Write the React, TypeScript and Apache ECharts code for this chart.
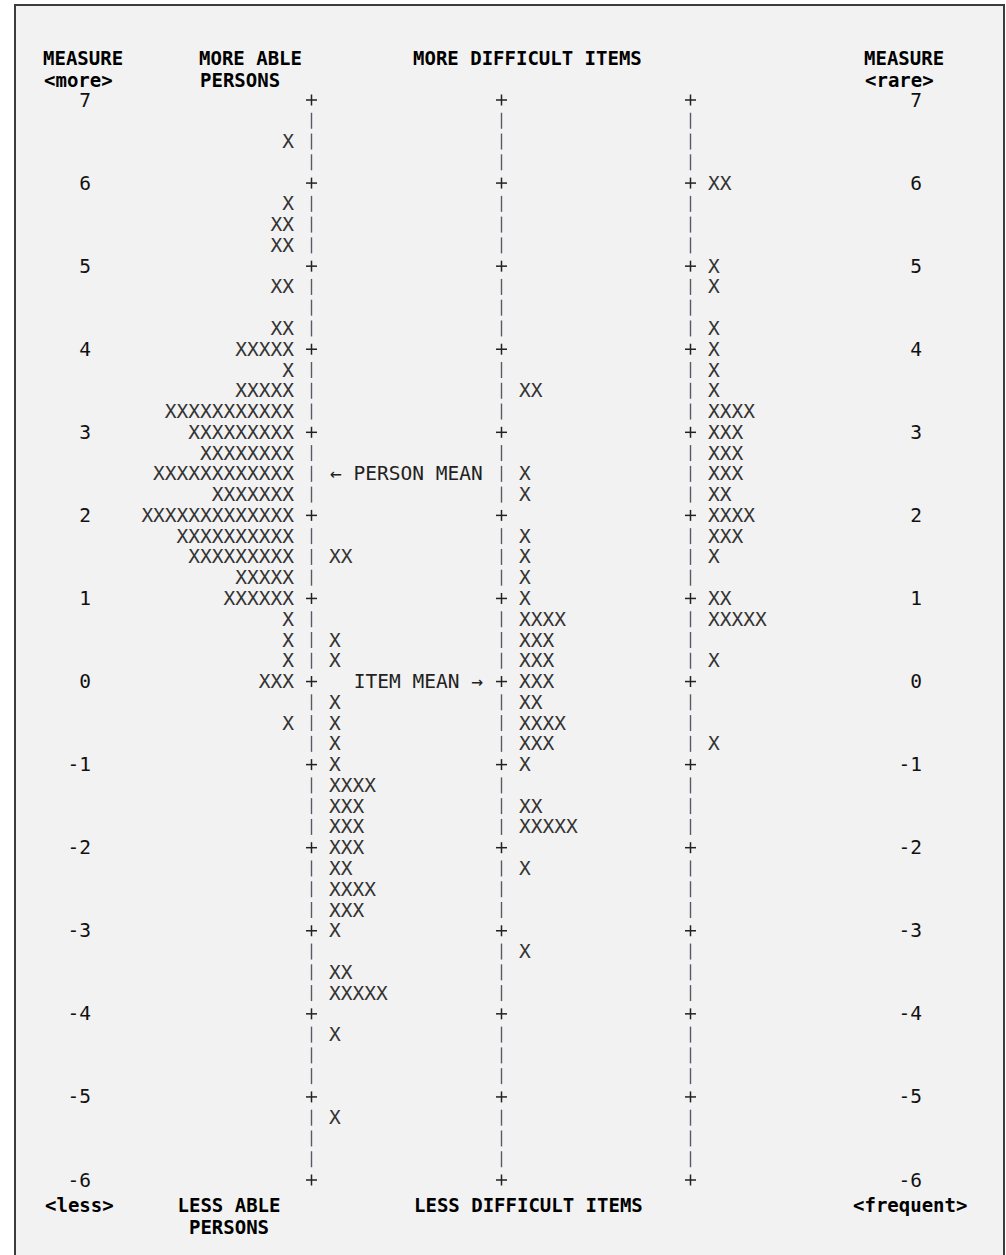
import React, { useEffect, useRef } from "react";
import * as echarts from "echarts";

// Measure scale ticks (logits)
const measureTicks = [7, 6, 5, 4, 3, 2, 1, 0, -1, -2, -3, -4, -5, -6];

// Counts per quarter-logit row, from 7.00 down to -6.00 (53 rows)
const personCounts = [
  0, 0, 1, 0, 0, 1, 2, 2, 0, 2, 0, 2, 5, 1, 5, 11, 9, 8, 12, 7, 13, 10, 9, 5, 6,
  1, 1, 1, 3, 0, 1, 0, 0, 0, 0, 0, 0, 0, 0, 0, 0, 0, 0, 0, 0, 0, 0, 0, 0, 0, 0, 0, 0,
];
const itemCountsA = [
  0, 0, 0, 0, 0, 0, 0, 0, 0, 0, 0, 0, 0, 0, 0, 0, 0, 0, 0, 0, 0, 0, 2, 0, 0,
  0, 1, 1, 0, 1, 1, 1, 1, 4, 3, 3, 3, 2, 4, 3, 1, 0, 2, 5, 0, 1, 0, 0, 0, 1, 0, 0, 0,
];
const itemCountsB = [
  0, 0, 0, 0, 0, 0, 0, 0, 0, 0, 0, 0, 0, 0, 2, 0, 0, 0, 1, 1, 0, 1, 1, 1, 1,
  4, 3, 3, 3, 2, 4, 3, 1, 0, 2, 5, 0, 1, 0, 0, 0, 1, 0, 0, 0, 0, 0, 0, 0, 0, 0, 0, 0,
];
const itemCountsC = [
  0, 0, 0, 0, 2, 0, 0, 0, 1, 1, 0, 1, 1, 1, 1, 4, 3, 3, 3, 2, 4, 3, 1, 0, 2,
  5, 0, 1, 0, 0, 0, 1, 0, 0, 0, 0, 0, 0, 0, 0, 0, 0, 0, 0, 0, 0, 0, 0, 0, 0, 0, 0, 0,
];
const personMean = 2.5;
const itemMean = 0;

const FONT = "'DejaVu Sans Mono', 'Liberation Mono', monospace";
const FS = 19.5;
const HFS = 19;

export default function App() {
  const ref = useRef<HTMLDivElement>(null);

  useEffect(() => {
    if (!ref.current) return;
    const chart = echarts.init(ref.current, null, { renderer: "svg" });

    const top = measureTicks[0];
    const bottom = measureTicks[measureTicks.length - 1];
    const nRows = (top - bottom) * 4 + 1;
    const rowLevels: number[] = [];
    for (let i = 0; i < nRows; i++) rowLevels.push(top - i * 0.25);

    const axisXs = [311, 501, 690];

    const xColumn = (counts: number[], anchorX: number, align: string) => ({
      type: "custom",
      coordinateSystem: "cartesian2d",
      silent: true,
      clip: false,
      data: counts
        .map((c, i) => [anchorX, rowLevels[i], c])
        .filter((d) => d[2] > 0),
      renderItem: (_p: any, api: any) => {
        const pt = api.coord([api.value(0), api.value(1)]);
        return {
          type: "text",
          x: pt[0],
          y: pt[1],
          style: {
            text: "X".repeat(api.value(2)),
            align,
            verticalAlign: "middle",
            fontFamily: FONT,
            fontSize: FS,
            lineHeight: 19,
            fill: "#333333",
          },
        };
      },
    });

    const axisSeries = {
      type: "custom",
      coordinateSystem: "cartesian2d",
      silent: true,
      clip: false,
      data: axisXs.flatMap((ax) =>
        rowLevels.map((lv) => [ax, lv, Number.isInteger(lv) ? 1 : 0])
      ),
      renderItem: (_p: any, api: any) => {
        const pt = api.coord([api.value(0), api.value(1)]);
        const x = Math.round(pt[0]) + 0.5;
        const y = pt[1];
        if (api.value(2) === 1) {
          return {
            type: "group",
            children: [
              {
                type: "line",
                shape: { x1: x - 5.5, y1: y, x2: x + 5.5, y2: y },
                style: { stroke: "#222", lineWidth: 1.5 },
              },
              {
                type: "line",
                shape: { x1: x, y1: y - 5.5, x2: x, y2: y + 5.5 },
                style: { stroke: "#222", lineWidth: 1.5 },
              },
            ],
          };
        }
        return {
          type: "line",
          shape: { x1: x, y1: y - 8, x2: x, y2: y + 8 },
          style: { stroke: "#5a5a66", lineWidth: 1.4 },
        };
      },
    };

    const meanSeries = {
      type: "custom",
      coordinateSystem: "cartesian2d",
      silent: true,
      clip: false,
      data: [
        [330, personMean, 0],
        [483, itemMean, 1],
      ],
      renderItem: (_p: any, api: any) => {
        const pt = api.coord([api.value(0), api.value(1)]);
        const isItem = api.value(2) === 1;
        return {
          type: "text",
          x: pt[0],
          y: pt[1],
          style: {
            text: isItem ? "ITEM MEAN \u2192" : "\u2190 PERSON MEAN",
            align: isItem ? "right" : "left",
            verticalAlign: "middle",
            fontFamily: FONT,
            fontSize: FS,
            lineHeight: 19,
            fill: "#222",
          },
        };
      },
    };

    const hdr = (text: string, x: number, y: number, align = "left") => ({
      type: "text",
      x,
      y,
      z: 10,
      style: {
        text,
        align,
        verticalAlign: "middle",
        fontFamily: FONT,
        fontSize: HFS,
        fontWeight: "bold",
        lineHeight: 18,
        fill: "#000",
      },
    });

    const axisLabelStyle = {
      fontFamily: FONT,
      fontSize: FS,
      lineHeight: 18,
      color: "#111",
    };

    chart.setOption({
      animation: false,
      backgroundColor: "#ffffff",
      grid: { left: 100, right: 106, top: 100, bottom: 75 },
      xAxis: { type: "value", min: 100, max: 900, show: false },
      yAxis: [
        {
          type: "value",
          min: bottom,
          max: top,
          interval: 1,
          position: "left",
          axisLine: { show: false },
          axisTick: { show: false },
          splitLine: { show: false },
          axisLabel: { ...axisLabelStyle, margin: 9, align: "right" },
        },
        {
          type: "value",
          min: bottom,
          max: top,
          interval: 1,
          position: "right",
          axisLine: { show: false },
          axisTick: { show: false },
          splitLine: { show: false },
          axisLabel: { ...axisLabelStyle, margin: 22, align: "right" },
        },
      ],
      graphic: [
        {
          type: "rect",
          z: -10,
          shape: { x: 15, y: 5, width: 989, height: 1270 },
          style: { fill: "#f2f2f2", stroke: "#3c3c3c", lineWidth: 2 },
        },
        hdr("MEASURE", 43, 58),
        hdr("<more>", 44, 79.5),
        hdr("MORE ABLE", 199, 58),
        hdr("PERSONS", 200, 79.5),
        hdr("MORE DIFFICULT ITEMS", 413, 58),
        hdr("MEASURE", 864, 58),
        hdr("<rare>", 865, 79.5),
        hdr("<less>", 45, 1204.5),
        hdr("LESS ABLE", 229, 1204.5, "center"),
        hdr("PERSONS", 229, 1226.5, "center"),
        hdr("LESS DIFFICULT ITEMS", 414, 1204.5),
        hdr("<frequent>", 853, 1204.5),
      ],
      series: [
        axisSeries,
        xColumn(personCounts, 294, "right"),
        xColumn(itemCountsA, 329, "left"),
        xColumn(itemCountsB, 519, "left"),
        xColumn(itemCountsC, 708, "left"),
        meanSeries,
      ],
    } as any);

    return () => chart.dispose();
  }, []);

  return (
    <div
      ref={ref}
      style={{ position: "absolute", left: 0, top: 0, width: 1006, height: 1255 }}
    />
  );
}
